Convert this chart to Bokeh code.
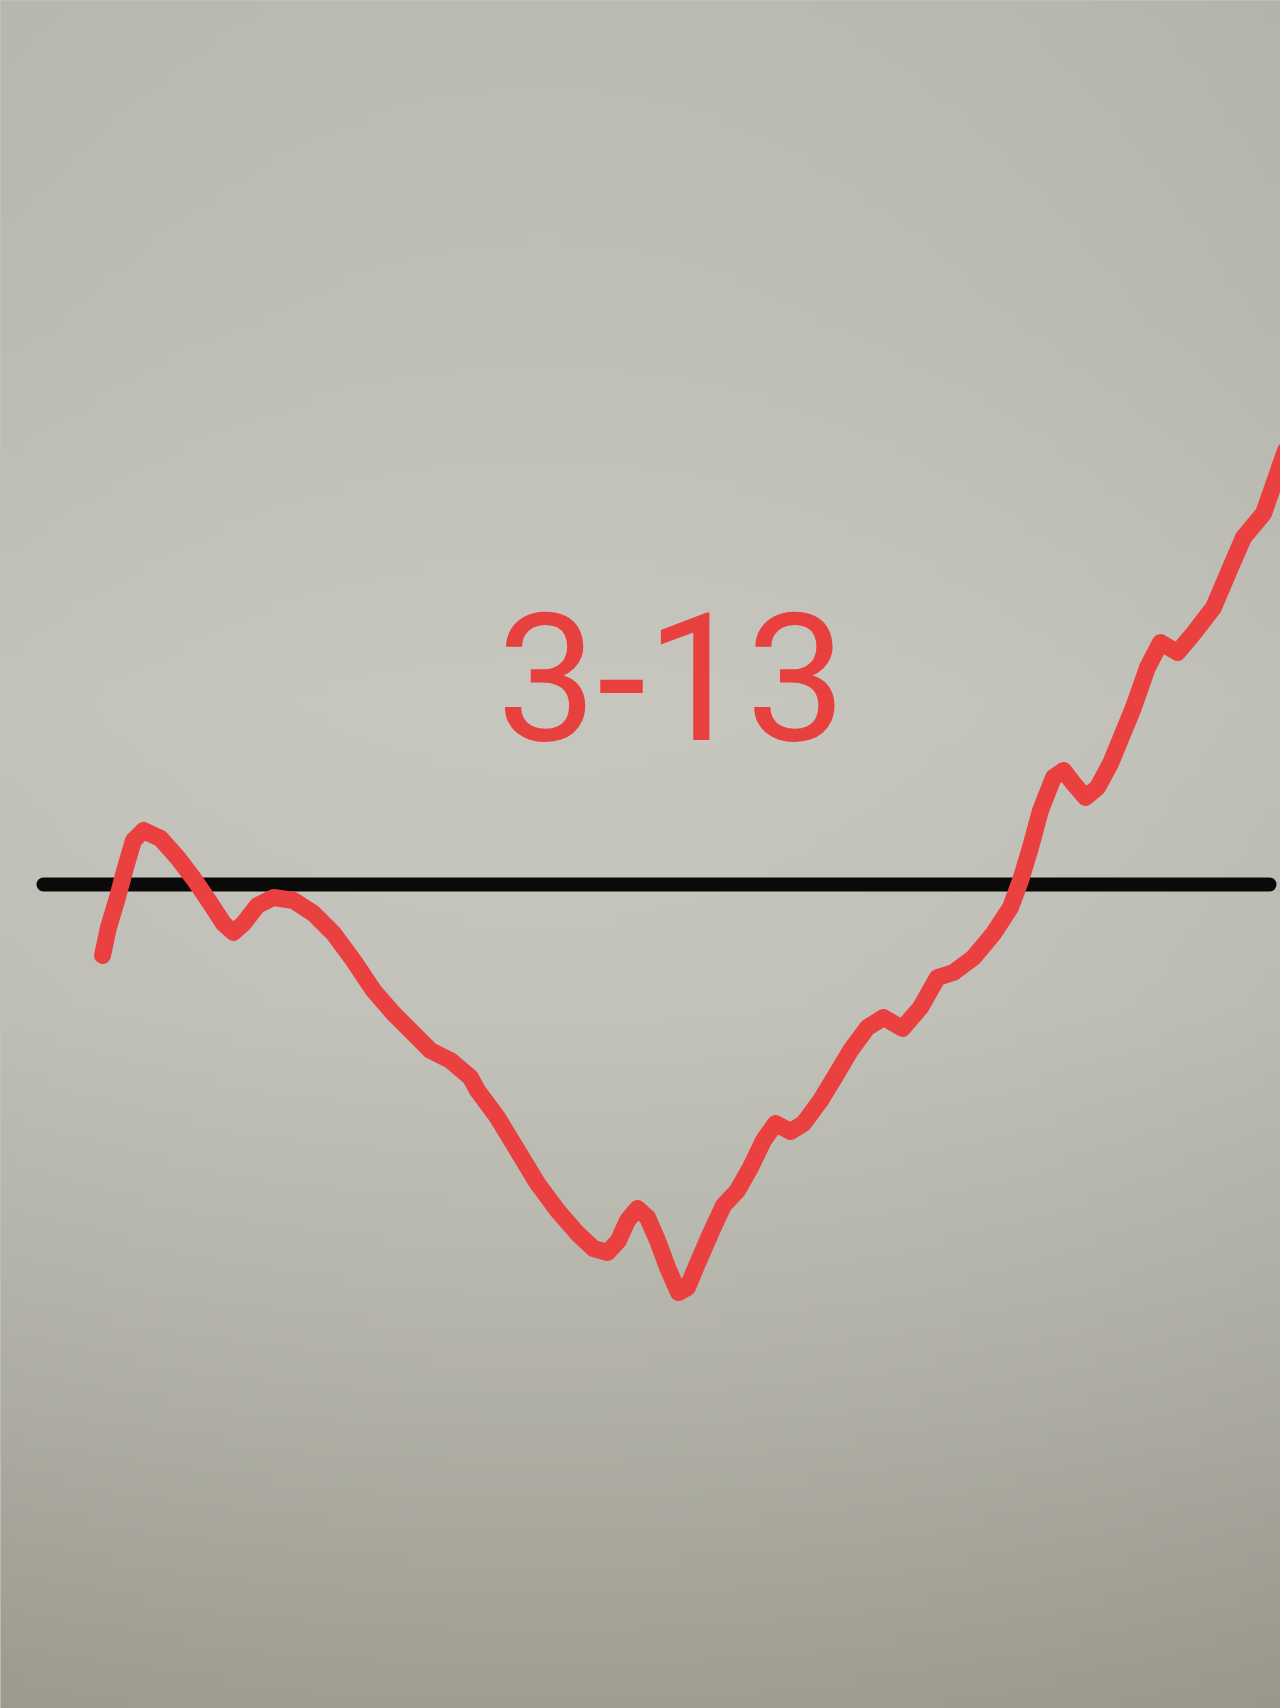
import numpy as np
from jinja2 import Template
from bokeh.plotting import figure
from bokeh.models import Range1d
from bokeh.core.properties import value
from bokeh.embed import file_html
from bokeh.resources import INLINE

# ---- data (level relative to the black reference line, positive = above) ----
curve_x = [102, 108, 117, 125, 133, 143, 160, 177, 193, 210, 223, 233, 243, 257,
           273, 293, 313, 333, 353, 373, 393, 413, 430, 450, 470, 477, 497, 517,
           537, 557, 577, 593, 607, 618, 627, 637, 647, 657, 667, 678, 687, 697,
           710, 723, 737, 750, 763, 775, 790, 803, 820, 837, 850, 867, 883, 902,
           920, 937, 953, 973, 993, 1010, 1020, 1030, 1040, 1053, 1063, 1073,
           1085, 1097, 1110, 1133, 1147, 1160, 1177, 1193, 1213, 1230, 1243,
           1263, 1285]
curve_y = [-71, -43, -13, 17, 44, 54, 46, 27, 6, -19, -39, -48, -39, -21,
           -13, -16, -29, -49, -76, -106, -129, -149, -166, -176, -193, -206,
           -233, -266, -299, -326, -349, -364, -368, -356, -336, -324, -333,
           -356, -383, -408, -403, -379, -349, -321, -306, -283, -256, -239,
           -247, -239, -216, -188, -166, -143, -133, -144, -123, -93, -88, -73,
           -49, -23, 4, 37, 74, 107, 114, 101, 87, 97, 121, 177, 217, 242, 232,
           251, 277, 317, 347, 371, 434]
baseline_level = 0
baseline_x = [43, 1269]
label_text = ["3-13"]
label_x = [671]
label_y = [208]

W, H = 1280, 1708
TOP = 884  # data level at top of the frame

p = figure(width=W, height=H, output_backend="svg", toolbar_location=None,
           x_range=Range1d(0, W), y_range=Range1d(TOP - H, TOP),
           min_border=0, min_border_left=0, min_border_right=0,
           min_border_top=0, min_border_bottom=0)
p.axis.visible = False
p.grid.visible = False
p.outline_line_color = None
p.background_fill_color = "#c4c3bb"
p.border_fill_color = "#c4c3bb"

# photographic paper background (soft vertical gradient + vignette)
ny, nx = 171, 128
ys = np.linspace(0, 1, ny)
xs = np.linspace(0, 1, nx)
kp = [0.0, 0.18, 0.41, 0.59, 0.76, 1.0]
cr = [188, 192, 200, 196, 183, 160]
cg = [187, 191, 199, 195, 182, 158]
cb = [179, 183, 191, 187, 173, 146]
R = np.interp(ys, kp, cr)
G = np.interp(ys, kp, cg)
B = np.interp(ys, kp, cb)
vig = 1 - 0.04 * ((xs - 0.42) / 0.58) ** 2
img = np.zeros((ny, nx), dtype=np.uint32)
view = img.view(dtype=np.uint8).reshape((ny, nx, 4))
view[:, :, 0] = np.clip(R[::-1, None] * vig[None, :], 0, 255).astype(np.uint8)
view[:, :, 1] = np.clip(G[::-1, None] * vig[None, :], 0, 255).astype(np.uint8)
view[:, :, 2] = np.clip(B[::-1, None] * vig[None, :], 0, 255).astype(np.uint8)
view[:, :, 3] = 255
p.image_rgba(image=[img], x=0, y=TOP - H, dw=W, dh=H)

# black reference line
p.line(baseline_x, [baseline_level, baseline_level], line_color="#0a0a0a",
       line_width=14, line_cap="round")

# red curve
p.line(curve_x, curve_y, line_color="#ea4140", line_width=17,
       line_join="round", line_cap="round")

# label
p.text(x=label_x, y=label_y, text=label_text, text_color="#e8403e",
       text_font=value("Roboto"), text_font_size="178px",
       text_align="center", text_baseline="alphabetic")

tmpl = Template("""{% extends base %}
{% block preamble %}<style>html,body{margin:0;padding:0;background:#c4c3bb;overflow:hidden;}</style>{% endblock %}""")
html = file_html(p, INLINE, template=tmpl)
open("out.html", "w").write(html)
